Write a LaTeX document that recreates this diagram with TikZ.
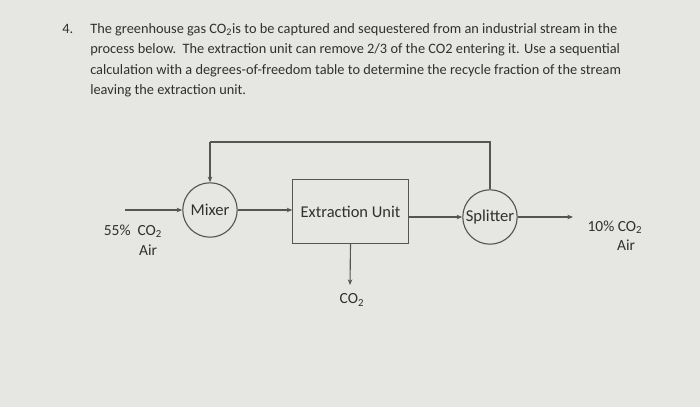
\documentclass[tikz,border=0pt]{standalone}
\usepackage{fontspec}
\setmainfont{Carlito}
\usepackage{tikz}
\usetikzlibrary{arrows.meta,positioning,calc}
\definecolor{ScreenGray}{HTML}{E6E6E3}
\definecolor{LineGray}{HTML}{555555}
\definecolor{TextInk}{HTML}{303030}

\begin{document}
\begin{tikzpicture}[x=0.025cm, y=-0.025cm,
  every node/.style={text=TextInk, inner sep=0pt},
  unit/.style={draw=LineGray, line width=0.8pt, circle, minimum size=1.36cm, font=\fontsize{11.8}{13}\selectfont},
  box/.style={draw=LineGray, line width=0.8pt, minimum width=2.88cm, minimum height=1.58cm, font=\fontsize{11.7}{13}\selectfont},
  flow/.style={draw=LineGray, line width=0.8pt, -{Stealth[length=4pt,width=3.2pt]}},
  pipe/.style={draw=LineGray, line width=0.8pt},
  lbl/.style={font=\fontsize{11}{13}\selectfont, align=center}]
  \fill[ScreenGray] (0,0) rectangle (700,407);
  \useasboundingbox (0,0) rectangle (700,407);
  % question text
  \node[anchor=base west, font=\fontsize{10.2}{14.6}\selectfont] (num) at (62,34) {4.};
  \node[anchor=north west, align=left, font=\fontsize{10.2}{14.6}\selectfont] (task) at (90,23)
    {The greenhouse gas CO\textsubscript{2}is to be captured and sequestered from an industrial stream in the\\
     process below.\ \ The extraction unit can remove 2/3 of the CO2 entering it. Use a sequential\\
     calculation with a degrees-of-freedom table to determine the recycle fraction of the stream\\
     leaving the extraction unit.};
  % units
  \node[unit] (mixer) at (210,210) {Mixer};
  \node[box]  (extract) at (350.5,211.5) {Extraction Unit};
  \node[unit] (splitter) at (490,217) {Splitter};
  % stream ends
  \coordinate (feed) at (125,210);
  \coordinate (prod) at (573,217);
  \coordinate (gas)  at (350,285);
  \coordinate (rtop) at (490,142);
  \coordinate (ltop) at (210,142);
  \node[lbl] (feedlbl) at (133,231) {55\%\ \ CO\textsubscript{2}};
  \node[lbl] (feedair) at (148,250) {Air};
  \node[lbl] (prodlbl) at (615,227) {10\% CO\textsubscript{2}};
  \node[lbl] (prodair) at (626,245) {Air};
  \node[lbl] (gaslbl) at (352,300) {CO\textsubscript{2}};
  % streams
  \draw[flow] (feed) -- (mixer.west);
  \draw[flow] (mixer.east) -- (mixer.east -| extract.west);
  \draw[flow] (extract.east |- splitter.west) -- (splitter.west);
  \draw[flow] (splitter.east) -- (prod);
  \draw[flow] (extract.south) -- (gas);
  \draw[pipe] (splitter.north) -- (rtop) -- (ltop);
  \draw[flow] (ltop) -- (mixer.north);
\end{tikzpicture}
\end{document}
